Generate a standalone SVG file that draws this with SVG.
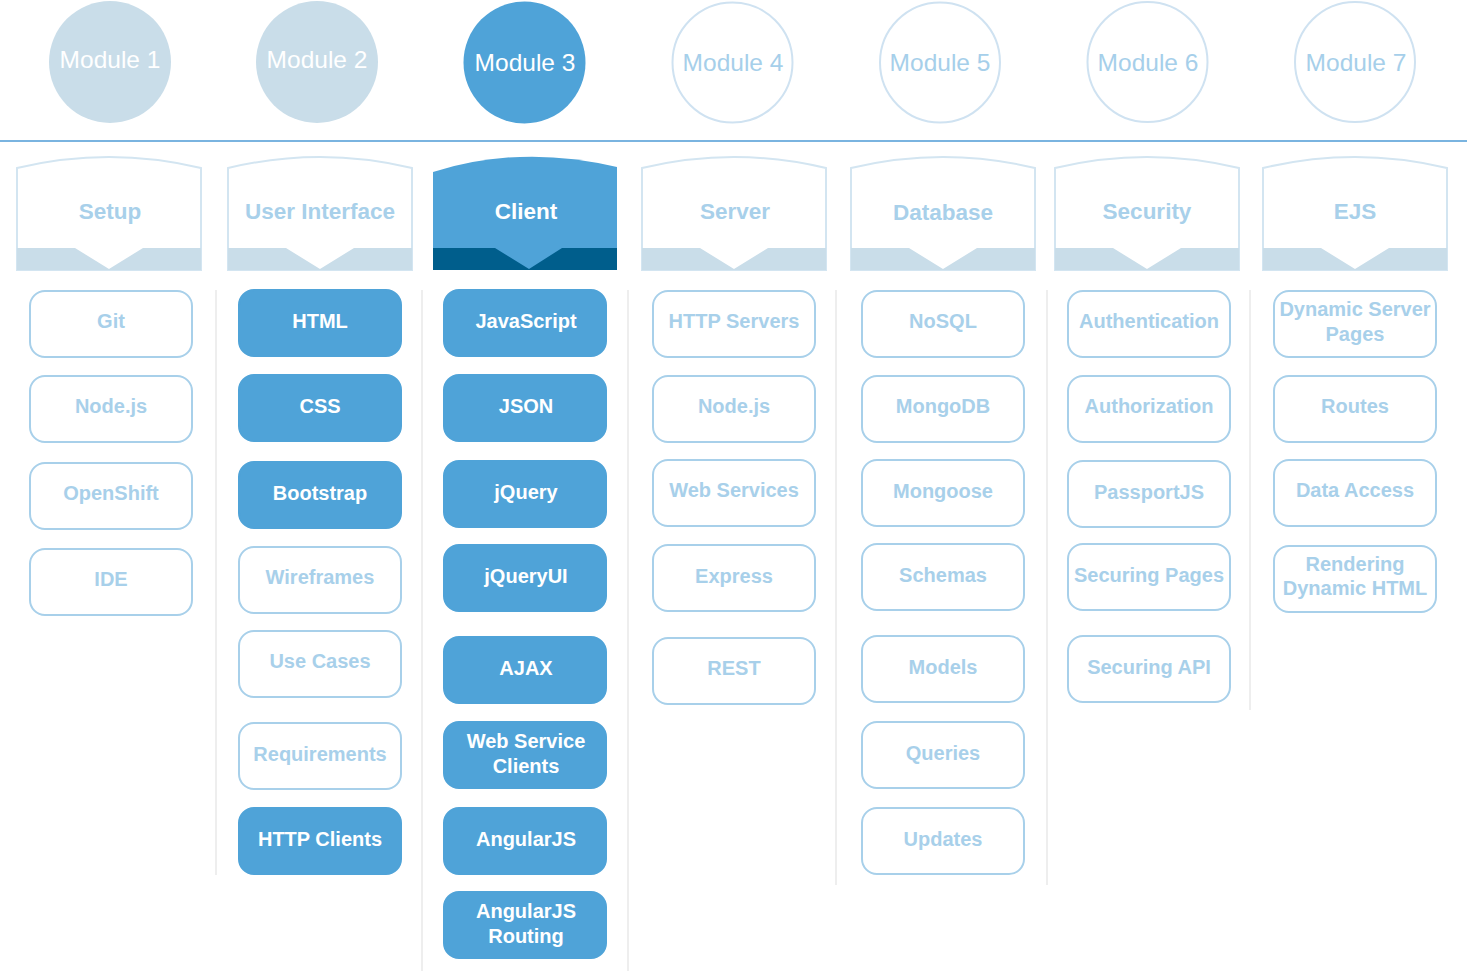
<svg xmlns="http://www.w3.org/2000/svg" width="1467" height="971" viewBox="0 0 1467 971">
<style>
text{font-family:"Liberation Sans",Arial,sans-serif;text-anchor:middle}
.mt{font-size:24.5px;fill:#ffffff}
.mt2{font-size:24.5px;fill:#a6cfea}
.m-done{fill:#c9dde9}
.m-cur{fill:#4fa3d8}
.m-todo{fill:#ffffff;stroke:#cfe2f1;stroke-width:2}
.hb{fill:#ffffff;stroke:#d3e5f1;stroke-width:2}
.hband{fill:#c9dde9}
.hbc{fill:#4fa3d8}
.hbandc{fill:#005e8c}
.ht{font-size:22.5px;font-weight:bold;fill:#a8d0ea}
.htc{font-size:22.5px;font-weight:bold;fill:#ffffff}
.bw{fill:#ffffff;stroke:#a8d0ea;stroke-width:2}
.bf{fill:#4fa3d8;stroke:#4fa3d8;stroke-width:2}
.tw{font-size:20px;font-weight:bold;fill:#a8d0ea}
.tf{font-size:20px;font-weight:bold;fill:#ffffff}
.sep{stroke:#eeeeee;stroke-width:2}
</style>
<defs>
<path id="hbody" d="M0,168 Q92,146 184,168 V270 H0 Z"/>
<path id="hbandp" d="M0,248 H58 L92,269 L126,248 H184 V270 H0 Z"/>
<rect id="box" x="0" y="0" width="162" height="66" rx="15" ry="15"/>
</defs>

<line x1="0" y1="141" x2="1467" y2="141" stroke="#7ab4e0" stroke-width="2"/>

<g id="modules">
<g id="module1"><circle class="m-done" cx="110" cy="62" r="61"/><text class="mt" x="110" y="68">Module 1</text></g>
<g id="module2"><circle class="m-done" cx="317" cy="62" r="61"/><text class="mt" x="317" y="68">Module 2</text></g>
<g id="module3"><circle class="m-cur" cx="524.5" cy="62.5" r="61"/><text class="mt" x="525" y="71">Module 3</text></g>
<g id="module4"><circle class="m-todo" cx="732.5" cy="62.5" r="60"/><text class="mt2" x="733" y="71">Module 4</text></g>
<g id="module5"><circle class="m-todo" cx="940" cy="62.5" r="60"/><text class="mt2" x="940" y="71">Module 5</text></g>
<g id="module6"><circle class="m-todo" cx="1147.5" cy="62" r="60"/><text class="mt2" x="1148" y="71">Module 6</text></g>
<g id="module7"><circle class="m-todo" cx="1355" cy="62" r="60"/><text class="mt2" x="1356" y="71">Module 7</text></g>
</g>

<g id="headers">
<g id="h-setup" transform="translate(17,0)"><use href="#hbody" class="hb"/><use href="#hbandp" class="hband"/><text class="ht" x="93" y="219">Setup</text></g>
<g id="h-ui" transform="translate(228,0)"><use href="#hbody" class="hb"/><use href="#hbandp" class="hband"/><text class="ht" x="92" y="219">User Interface</text></g>
<g id="h-client" transform="translate(433,0)"><path class="hbc" d="M0,172 Q88,144 184,167 V270 H0 Z"/><path class="hbandc" d="M0,248 H62 L96,269 L129,248 H184 V270 H0 Z"/><text class="htc" x="93" y="219">Client</text></g>
<g id="h-server" transform="translate(642,0)"><use href="#hbody" class="hb"/><use href="#hbandp" class="hband"/><text class="ht" x="93" y="219">Server</text></g>
<g id="h-database" transform="translate(851,0)"><use href="#hbody" class="hb"/><use href="#hbandp" class="hband"/><text class="ht" x="92" y="220">Database</text></g>
<g id="h-security" transform="translate(1055,0)"><use href="#hbody" class="hb"/><use href="#hbandp" class="hband"/><text class="ht" x="92" y="219">Security</text></g>
<g id="h-ejs" transform="translate(1263,0)"><use href="#hbody" class="hb"/><use href="#hbandp" class="hband"/><text class="ht" x="92" y="219">EJS</text></g>
</g>

<g id="separators">
<line class="sep" x1="216" y1="290" x2="216" y2="875"/>
<line class="sep" x1="422" y1="290" x2="422" y2="971"/>
<line class="sep" x1="628" y1="290" x2="628" y2="971"/>
<line class="sep" x1="836" y1="290" x2="836" y2="885"/>
<line class="sep" x1="1047" y1="290" x2="1047" y2="885"/>
<line class="sep" x1="1250" y1="290" x2="1250" y2="710"/>
</g>

<g id="col-setup">
<g id="n-git" transform="translate(30,291)"><use href="#box" class="bw"/><text class="tw" x="81" y="37">Git</text></g>
<g id="n-nodejs1" transform="translate(30,376)"><use href="#box" class="bw"/><text class="tw" x="81" y="37">Node.js</text></g>
<g id="n-openshift" transform="translate(30,463)"><use href="#box" class="bw"/><text class="tw" x="81" y="37">OpenShift</text></g>
<g id="n-ide" transform="translate(30,549)"><use href="#box" class="bw"/><text class="tw" x="81" y="37">IDE</text></g>
</g>

<g id="col-ui">
<g id="n-html" transform="translate(239,290)"><use href="#box" class="bf"/><text class="tf" x="81" y="38">HTML</text></g>
<g id="n-css" transform="translate(239,375)"><use href="#box" class="bf"/><text class="tf" x="81" y="38">CSS</text></g>
<g id="n-bootstrap" transform="translate(239,462)"><use href="#box" class="bf"/><text class="tf" x="81" y="38">Bootstrap</text></g>
<g id="n-wireframes" transform="translate(239,547)"><use href="#box" class="bw"/><text class="tw" x="81" y="37">Wireframes</text></g>
<g id="n-usecases" transform="translate(239,631)"><use href="#box" class="bw"/><text class="tw" x="81" y="37">Use Cases</text></g>
<g id="n-requirements" transform="translate(239,723)"><use href="#box" class="bw"/><text class="tw" x="81" y="38">Requirements</text></g>
<g id="n-httpclients" transform="translate(239,808)"><use href="#box" class="bf"/><text class="tf" x="81" y="38">HTTP Clients</text></g>
</g>

<g id="col-client">
<g id="n-javascript" transform="translate(444,290)"><use href="#box" class="bf"/><text class="tf" x="82" y="38">JavaScript</text></g>
<g id="n-json" transform="translate(444,375)"><use href="#box" class="bf"/><text class="tf" x="82" y="38">JSON</text></g>
<g id="n-jquery" transform="translate(444,461)"><use href="#box" class="bf"/><text class="tf" x="82" y="38">jQuery</text></g>
<g id="n-jqueryui" transform="translate(444,545)"><use href="#box" class="bf"/><text class="tf" x="82" y="38">jQueryUI</text></g>
<g id="n-ajax" transform="translate(444,637)"><use href="#box" class="bf"/><text class="tf" x="82" y="38">AJAX</text></g>
<g id="n-wsclients" transform="translate(444,722)"><use href="#box" class="bf"/><text class="tf" x="82" y="26">Web Service</text><text class="tf" x="82" y="51">Clients</text></g>
<g id="n-angularjs" transform="translate(444,808)"><use href="#box" class="bf"/><text class="tf" x="82" y="38">AngularJS</text></g>
<g id="n-angularrouting" transform="translate(444,892)"><use href="#box" class="bf"/><text class="tf" x="82" y="26">AngularJS</text><text class="tf" x="82" y="51">Routing</text></g>
</g>

<g id="col-server">
<g id="n-httpservers" transform="translate(653,291)"><use href="#box" class="bw"/><text class="tw" x="81" y="37">HTTP Servers</text></g>
<g id="n-nodejs2" transform="translate(653,376)"><use href="#box" class="bw"/><text class="tw" x="81" y="37">Node.js</text></g>
<g id="n-webservices" transform="translate(653,460)"><use href="#box" class="bw"/><text class="tw" x="81" y="37">Web Services</text></g>
<g id="n-express" transform="translate(653,545)"><use href="#box" class="bw"/><text class="tw" x="81" y="38">Express</text></g>
<g id="n-rest" transform="translate(653,638)"><use href="#box" class="bw"/><text class="tw" x="81" y="37">REST</text></g>
</g>

<g id="col-database">
<g id="n-nosql" transform="translate(862,291)"><use href="#box" class="bw"/><text class="tw" x="81" y="37">NoSQL</text></g>
<g id="n-mongodb" transform="translate(862,376)"><use href="#box" class="bw"/><text class="tw" x="81" y="37">MongoDB</text></g>
<g id="n-mongoose" transform="translate(862,460)"><use href="#box" class="bw"/><text class="tw" x="81" y="38">Mongoose</text></g>
<g id="n-schemas" transform="translate(862,544)"><use href="#box" class="bw"/><text class="tw" x="81" y="38">Schemas</text></g>
<g id="n-models" transform="translate(862,636)"><use href="#box" class="bw"/><text class="tw" x="81" y="38">Models</text></g>
<g id="n-queries" transform="translate(862,722)"><use href="#box" class="bw"/><text class="tw" x="81" y="38">Queries</text></g>
<g id="n-updates" transform="translate(862,808)"><use href="#box" class="bw"/><text class="tw" x="81" y="38">Updates</text></g>
</g>

<g id="col-security">
<g id="n-authentication" transform="translate(1068,291)"><use href="#box" class="bw"/><text class="tw" x="81" y="37">Authentication</text></g>
<g id="n-authorization" transform="translate(1068,376)"><use href="#box" class="bw"/><text class="tw" x="81" y="37">Authorization</text></g>
<g id="n-passportjs" transform="translate(1068,461)"><use href="#box" class="bw"/><text class="tw" x="81" y="38">PassportJS</text></g>
<g id="n-securingpages" transform="translate(1068,544)"><use href="#box" class="bw"/><text class="tw" x="81" y="38">Securing Pages</text></g>
<g id="n-securingapi" transform="translate(1068,636)"><use href="#box" class="bw"/><text class="tw" x="81" y="38">Securing API</text></g>
</g>

<g id="col-ejs">
<g id="n-dsp" transform="translate(1274,291)"><use href="#box" class="bw"/><text class="tw" x="81" y="25">Dynamic Server</text><text class="tw" x="81" y="50">Pages</text></g>
<g id="n-routes" transform="translate(1274,376)"><use href="#box" class="bw"/><text class="tw" x="81" y="37">Routes</text></g>
<g id="n-dataaccess" transform="translate(1274,460)"><use href="#box" class="bw"/><text class="tw" x="81" y="37">Data Access</text></g>
<g id="n-rendering" transform="translate(1274,546)"><use href="#box" class="bw"/><text class="tw" x="81" y="25">Rendering</text><text class="tw" x="81" y="49">Dynamic HTML</text></g>
</g>
</svg>
